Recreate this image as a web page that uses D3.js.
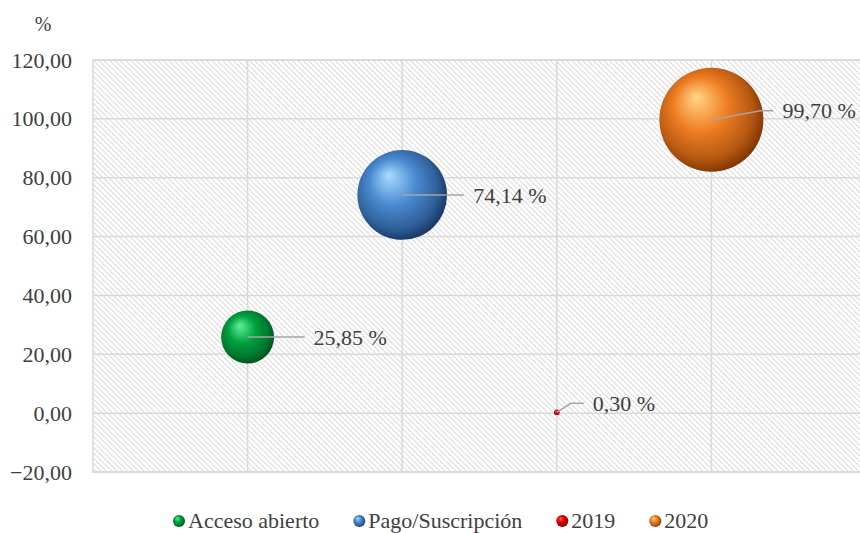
<!DOCTYPE html>
<html>
<head>
<meta charset="utf-8">
<script src="https://cdn.jsdelivr.net/npm/d3@7"></script>
<style>
  body { margin: 0; background: #fff; }
  text { font-family: "Liberation Serif", "Times New Roman", serif; fill: #404040; }
</style>
</head>
<body>
<div id="chart"></div>
<script>
// series (one bubble each)
var seriesNames = ["Acceso abierto", "Pago/Suscripción", "2019", "2020"];
var xValues = [1, 2, 3, 4];
var yValues = [25.85, 74.14, 0.30, 99.70];
var sizeValues = [25.85, 74.14, 0.30, 99.70];
var labels = ["25,85 %", "74,14 %", "0,30 %", "99,70 %"];
var yTicks = [-20, 0, 20, 40, 60, 80, 100, 120];

// colours: highlight, base, dark edge
var colors = [
  ["#5ff09a", "#00a040", "#004d1a"],
  ["#a9dcff", "#4a8ad0", "#14345f"],
  ["#ff6060", "#e00000", "#800000"],
  ["#ffd68a", "#ef7d22", "#7a3300"]
];
// manual label placement (dx, dy from bubble centre)
var labelOffsets = [[66, 0], [71, 0], [36, -9], [71, -9]];

var w = 860, h = 533;
var margin = {top: 60, left: 93, bottom: 472};

var svg = d3.select("#chart").append("svg")
  .attr("width", w)
  .attr("height", h);

var x = d3.scaleLinear().domain([0, 5]).range([margin.left, 866]);
var y = d3.scaleLinear().domain([-20, 120]).range([margin.bottom, margin.top]);
var r = d3.scaleSqrt().domain([0, 99.70]).range([0, 52]);

var defs = svg.append("defs");

var pattern = defs.append("pattern")
  .attr("id", "hatch")
  .attr("patternUnits", "userSpaceOnUse")
  .attr("width", 3.8)
  .attr("height", 4)
  .attr("patternTransform", "rotate(-45)");
pattern.append("rect").attr("width", 3.8).attr("height", 4).attr("fill", "#fff");
pattern.append("line")
  .attr("x1", 0.5).attr("y1", 0).attr("x2", 0.5).attr("y2", 4)
  .attr("stroke", "#d9d9d9")
  .attr("stroke-width", 1);

colors.forEach(function(c, i) {
  var g = defs.append("radialGradient")
    .attr("id", "sphere" + i)
    .attr("cx", "45%").attr("cy", "45%").attr("r", "58%")
    .attr("fx", "35%").attr("fy", "28%");
  g.append("stop").attr("offset", "0%").attr("stop-color", c[0]);
  g.append("stop").attr("offset", "45%").attr("stop-color", c[1]);
  g.append("stop").attr("offset", "80%").attr("stop-color", d3.interpolateRgb(c[1], c[2])(0.5));
  g.append("stop").attr("offset", "100%").attr("stop-color", c[2]);
});

// plot area
var x0 = x(0), x1 = x(5), yTop = y(120), yBot = y(-20);
svg.append("rect")
  .attr("x", x0).attr("y", yTop)
  .attr("width", x1 - x0).attr("height", yBot - yTop)
  .attr("fill", "url(#hatch)")
  .attr("stroke", "#d9d9d9")
  .attr("stroke-width", 1.5);

// horizontal grid
svg.append("g").selectAll("line")
  .data(yTicks)
  .enter()
  .append("line")
  .attr("x1", x0).attr("x2", x1)
  .attr("y1", function(d) { return y(d); })
  .attr("y2", function(d) { return y(d); })
  .attr("stroke", "#d9d9d9")
  .attr("stroke-width", 1.5);

// vertical grid
svg.append("g").selectAll("line")
  .data(xValues)
  .enter()
  .append("line")
  .attr("x1", function(d) { return x(d); })
  .attr("x2", function(d) { return x(d); })
  .attr("y1", yTop).attr("y2", yBot)
  .attr("stroke", "#d9d9d9")
  .attr("stroke-width", 1.5);

// y axis labels
var yAxis = d3.axisLeft(y)
  .tickValues(yTicks)
  .tickSize(0)
  .tickPadding(21)
  .tickFormat(function(d) { return d3.format(".2f")(d).replace(".", ","); });

var ya = svg.append("g")
  .attr("transform", "translate(" + x0 + ",0)")
  .call(yAxis);
ya.select(".domain").remove();
ya.selectAll("text")
  .attr("font-family", "Liberation Serif, Times New Roman, serif")
  .attr("font-size", "22px")
  .attr("fill", "#404040");

svg.append("text")
  .attr("x", 43)
  .attr("y", 31)
  .attr("text-anchor", "middle")
  .attr("font-size", "20px")
  .text("%");

// bubbles
var data = seriesNames.map(function(n, i) {
  return {name: n, x: xValues[i], y: yValues[i], size: sizeValues[i], label: labels[i], i: i};
});

svg.append("g").selectAll("circle")
  .data(data)
  .enter()
  .append("circle")
  .attr("cx", function(d) { return x(d.x); })
  .attr("cy", function(d) { return y(d.y); })
  .attr("r", function(d) { return Math.max(r(d.size), 2.5); })
  .attr("fill", function(d) { return "url(#sphere" + d.i + ")"; });

// leader lines
svg.append("g").selectAll("polyline")
  .data(data)
  .enter()
  .append("polyline")
  .attr("points", function(d) {
    var cx = x(d.x), cy = y(d.y);
    var tx = cx + labelOffsets[d.i][0], ty = cy + labelOffsets[d.i][1];
    return [[cx, cy], [tx - 22, ty], [tx - 9, ty]].join(" ");
  })
  .attr("fill", "none")
  .attr("stroke", "#a6a6a6")
  .attr("stroke-width", 1.5);

svg.append("g").selectAll("text")
  .data(data)
  .enter()
  .append("text")
  .attr("x", function(d) { return x(d.x) + labelOffsets[d.i][0]; })
  .attr("y", function(d) { return y(d.y) + labelOffsets[d.i][1]; })
  .attr("dy", "0.35em")
  .attr("font-size", "22px")
  .text(function(d) { return d.label; });

// legend
var legend = svg.append("g").attr("transform", "translate(179,521)");
var lx = 0;
data.forEach(function(d) {
  var item = legend.append("g").attr("transform", "translate(" + lx + ",0)");
  item.append("circle")
    .attr("r", 6)
    .attr("fill", "url(#sphere" + d.i + ")");
  var t = item.append("text")
    .attr("x", 9)
    .attr("y", 7)
    .attr("font-size", "22px")
    .text(d.name);
  lx += 9 + t.node().getComputedTextLength() + 40;
});
</script>
</body>
</html>
